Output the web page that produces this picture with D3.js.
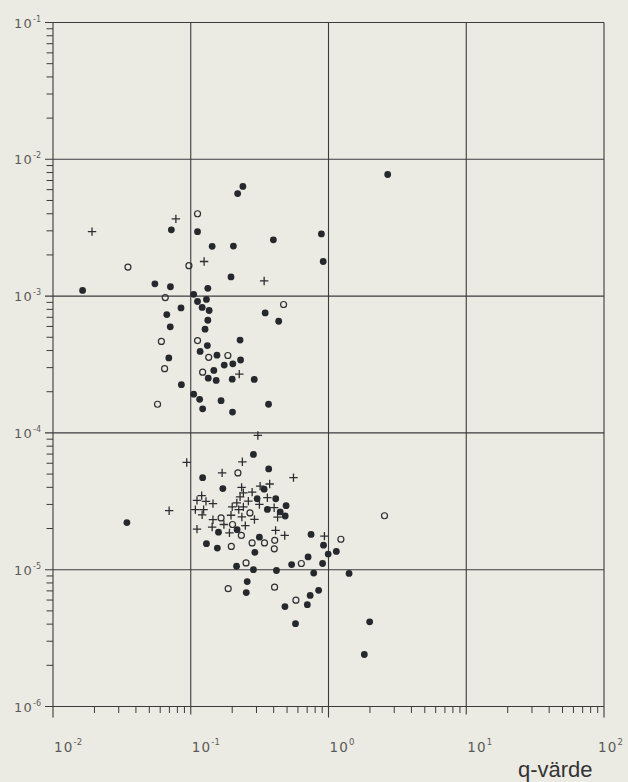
<!DOCTYPE html>
<html>
<head>
<meta charset="utf-8">
<script src="https://cdn.jsdelivr.net/npm/d3@7/dist/d3.min.js"></script>
<style>
  html, body { margin: 0; padding: 0; background: #ecebe3; }
  svg { display: block; }
</style>
</head>
<body>
<svg id="chart" width="628" height="782"></svg>
<script>
// ---- data (q-värde, y-value) ----
const filledPoints = [
  [0.239, 6.33e-3], [0.219, 5.62e-3], [0.0723, 3.05e-3], [0.112, 2.96e-3], [0.398, 2.58e-3],
  [0.888, 2.85e-3], [0.143, 2.31e-3], [0.204, 2.32e-3], [0.915, 1.79e-3], [0.196, 1.38e-3],
  [0.0549, 1.23e-3], [0.0712, 1.17e-3], [0.133, 1.14e-3], [0.0164, 1.10e-3], [0.105, 1.03e-3],
  [0.112, 9.13e-4], [0.130, 9.45e-4], [0.121, 8.26e-4], [0.0850, 8.20e-4], [0.136, 7.85e-4],
  [0.0670, 7.33e-4], [0.347, 7.54e-4], [0.435, 6.55e-4], [0.133, 6.66e-4], [0.0710, 5.96e-4],
  [0.127, 5.73e-4], [0.228, 4.77e-4], [0.132, 4.35e-4], [0.117, 3.94e-4], [0.155, 3.70e-4],
  [0.230, 3.41e-4], [0.0693, 3.53e-4], [0.175, 3.13e-4], [0.202, 3.20e-4], [0.147, 2.86e-4],
  [0.134, 2.51e-4], [0.153, 2.42e-4], [0.200, 2.47e-4], [0.289, 2.46e-4], [0.0855, 2.25e-4],
  [0.105, 1.92e-4], [0.116, 1.76e-4], [0.166, 1.72e-4], [0.367, 1.62e-4], [0.122, 1.50e-4],
  [0.201, 1.42e-4], [2.69, 7.74e-3],
  [0.285, 6.96e-5], [0.368, 5.45e-5], [0.122, 4.71e-5], [0.171, 3.92e-5], [0.341, 3.88e-5],
  [0.303, 3.30e-5], [0.414, 3.30e-5], [0.492, 2.94e-5], [0.360, 2.76e-5], [0.446, 2.65e-5],
  [0.0344, 2.21e-5], [0.485, 2.47e-5], [0.217, 1.96e-5], [0.159, 1.88e-5], [0.747, 1.81e-5],
  [0.315, 1.73e-5], [0.130, 1.55e-5], [0.156, 1.44e-5], [0.920, 1.51e-5], [0.292, 1.34e-5],
  [1.14, 1.36e-5], [0.995, 1.30e-5], [0.711, 1.24e-5], [0.215, 1.06e-5], [0.540, 1.09e-5],
  [0.906, 1.11e-5], [0.285, 1.00e-5], [0.419, 9.87e-6], [0.781, 9.45e-6], [1.41, 9.39e-6],
  [0.257, 8.19e-6], [0.253, 6.81e-6], [0.848, 7.07e-6], [0.736, 6.49e-6], [0.483, 5.38e-6],
  [0.702, 5.55e-6], [0.576, 4.03e-6], [1.99, 4.16e-6], [1.82, 2.40e-6]
];
const openPoints = [
  [0.112, 4.00e-3], [0.0350, 1.63e-3], [0.0970, 1.67e-3], [0.0653, 9.75e-4], [0.472, 8.68e-4],
  [0.0612, 4.66e-4], [0.112, 4.73e-4], [0.135, 3.57e-4], [0.186, 3.68e-4], [0.0646, 2.95e-4],
  [0.122, 2.78e-4], [0.0574, 1.62e-4],
  [0.220, 5.10e-5], [0.269, 2.60e-5], [0.166, 2.39e-5], [0.201, 2.14e-5], [0.233, 1.78e-5],
  [1.23, 1.67e-5], [0.407, 1.64e-5], [0.279, 1.57e-5], [0.343, 1.57e-5], [0.197, 1.48e-5],
  [0.404, 1.42e-5], [0.252, 1.12e-5], [0.635, 1.11e-5], [0.187, 7.26e-6], [0.406, 7.45e-6],
  [0.580, 5.99e-6], [2.55, 2.48e-5]
];
const plusPoints = [
  [0.0780, 3.67e-3], [0.0192, 2.96e-3], [0.125, 1.79e-3], [0.341, 1.29e-3], [0.225, 2.69e-4],
  [0.307, 9.58e-5], [0.0935, 6.08e-5], [0.237, 6.15e-5], [0.169, 5.10e-5], [0.557, 4.71e-5],
  [0.319, 4.08e-5], [0.374, 4.23e-5], [0.234, 4.00e-5], [0.241, 3.65e-5], [0.279, 3.69e-5],
  [0.120, 3.48e-5], [0.228, 3.41e-5], [0.360, 3.36e-5], [0.111, 3.21e-5], [0.129, 3.16e-5],
  [0.145, 3.04e-5], [0.262, 3.17e-5], [0.216, 3.08e-5], [0.315, 3.00e-5], [0.200, 2.88e-5],
  [0.241, 2.88e-5], [0.108, 2.75e-5], [0.124, 2.75e-5], [0.403, 2.84e-5], [0.223, 2.75e-5],
  [0.0697, 2.70e-5], [0.121, 2.52e-5], [0.196, 2.50e-5], [0.235, 2.43e-5], [0.427, 2.42e-5],
  [0.290, 2.33e-5], [0.145, 2.32e-5], [0.174, 2.14e-5], [0.249, 2.10e-5], [0.143, 2.05e-5],
  [0.111, 1.98e-5], [0.191, 1.86e-5], [0.413, 1.94e-5], [0.481, 1.78e-5], [0.934, 1.76e-5]
];
const xTickExponents = [-2, -1, 0, 1, 2];
const yTickExponents = [-1, -2, -3, -4, -5, -6];
const xTitle = "q-värde";

// ---- layout ----
const svg = d3.select("#chart");
const X0 = 53, X1 = 604, Y0 = 22.5, Y1 = 706.5;
const x = d3.scaleLog().domain([1e-2, 1e2]).range([X0, X1]);
const y = d3.scaleLog().domain([1e-6, 1e-1]).range([Y1, Y0]);
const ink = "#3a3b3c";

svg.append("rect").attr("width", 628).attr("height", 782).attr("fill", "#ecebe3");

const g = svg.append("g");

// grid: decade lines
const xDecades = xTickExponents.map(e => Math.pow(10, e));
const yDecades = yTickExponents.map(e => Math.pow(10, e));
g.selectAll("line.vgrid").data(xDecades).join("line")
  .attr("x1", d => x(d)).attr("x2", d => x(d))
  .attr("y1", Y0).attr("y2", (d, i) => Y1 + (i === 0 || i === 2 || i === 4 ? 11 : 8))
  .attr("stroke", ink).attr("stroke-width", 1.1);
g.selectAll("line.hgrid").data(yDecades).join("line")
  .attr("x1", X0 - 8).attr("x2", X1)
  .attr("y1", d => y(d)).attr("y2", d => y(d))
  .attr("stroke", ink).attr("stroke-width", 1.1);

// minor ticks
const xMinor = x.ticks(40).filter(v => Math.abs(Math.log10(v) - Math.round(Math.log10(v))) > 1e-6);
const yMinor = y.ticks(60).filter(v => Math.abs(Math.log10(v) - Math.round(Math.log10(v))) > 1e-6);
g.selectAll("line.xminor").data(xMinor).join("line")
  .attr("x1", d => x(d)).attr("x2", d => x(d))
  .attr("y1", Y1).attr("y2", Y1 + 6.5)
  .attr("stroke", ink).attr("stroke-width", 1);
g.selectAll("line.yminor").data(yMinor).join("line")
  .attr("x1", X0 - 6.5).attr("x2", X0)
  .attr("y1", d => y(d)).attr("y2", d => y(d))
  .attr("stroke", ink).attr("stroke-width", 1);

// tick labels
const labelFont = "'DejaVu Sans', sans-serif";
const labelColor = "#5a5a5a";
xTickExponents.forEach((e, i) => {
  const last = i === xTickExponents.length - 1;
  const t = svg.append("text")
    .attr("x", last ? 623 : x(Math.pow(10, e)) + 1).attr("y", 752)
    .attr("text-anchor", last ? "end" : "start")
    .attr("font-family", labelFont).attr("font-size", 13.5)
    .attr("fill", labelColor).attr("letter-spacing", 1.2);
  t.append("tspan").text("10");
  t.append("tspan").attr("dy", -7).attr("font-size", 8.5).attr("letter-spacing", 0)
    .text(e < 0 ? "-" + Math.abs(e) : String(e));
});
yTickExponents.forEach(e => {
  const t = svg.append("text")
    .attr("x", 41).attr("y", y(Math.pow(10, e)) + 5)
    .attr("text-anchor", "end")
    .attr("font-family", labelFont).attr("font-size", 13)
    .attr("fill", labelColor).attr("letter-spacing", 1.2);
  t.append("tspan").text("10");
  t.append("tspan").attr("dy", -6).attr("font-size", 8).attr("letter-spacing", 0)
    .text("-" + Math.abs(e));
});

svg.append("text")
  .attr("x", 518).attr("y", 777)
  .attr("font-family", "'Liberation Sans', Arial, sans-serif")
  .attr("font-size", 22).attr("fill", "#333")
  .text(xTitle);

// ---- marks ----
const marks = svg.append("g");
marks.selectAll("circle.filled").data(filledPoints).join("circle")
  .attr("cx", d => x(d[0])).attr("cy", d => y(d[1])).attr("r", 3.4)
  .attr("fill", "#25282d");
marks.selectAll("circle.open").data(openPoints).join("circle")
  .attr("cx", d => x(d[0])).attr("cy", d => y(d[1])).attr("r", 3)
  .attr("fill", "none").attr("stroke", "#2c2e31").attr("stroke-width", 1.2);
marks.selectAll("path.plus").data(plusPoints).join("path")
  .attr("transform", d => `translate(${x(d[0])},${y(d[1])})`)
  .attr("d", "M-4.2,0H4.2M0,-4.2V4.2")
  .attr("stroke", "#2c2e31").attr("stroke-width", 1.3).attr("fill", "none");
</script>
</body>
</html>
